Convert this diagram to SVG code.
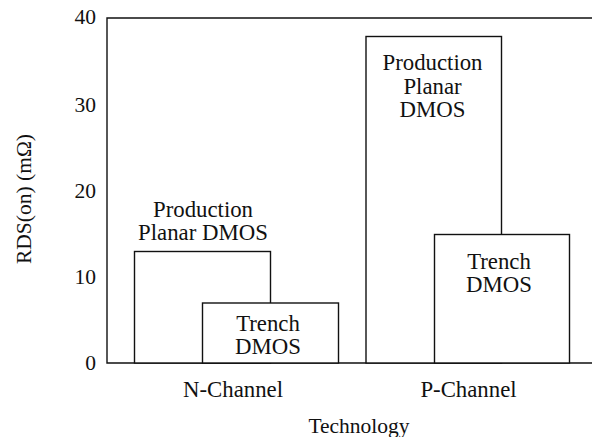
<svg xmlns="http://www.w3.org/2000/svg" width="592" height="437" viewBox="0 0 592 437" font-family="Liberation Serif, DejaVu Serif, serif">
<style>
text{font-size:22.8px;fill:#111}
.s{font-size:21.5px}
.m{text-anchor:middle}
.e{text-anchor:end}
.bar{fill:#fff;stroke:#111;stroke-width:1.4}
.ax{fill:none;stroke:#111;stroke-width:1.4}
</style>
<rect width="592" height="437" fill="#fff"/>
<g id="axes">
<path class="ax" d="M592,18 H107 V363 H592"/>
<text class="e s" x="96" y="24">40</text>
<text class="e s" x="96" y="111.5">30</text>
<text class="e s" x="96" y="197.5">20</text>
<text class="e s" x="96" y="283.5">10</text>
<text class="e s" x="96" y="369.5">0</text>
<text class="m s" transform="translate(31,199) rotate(-90)" x="0" y="0">RDS(on) (mΩ)</text>
<text class="m" x="233" y="397">N-Channel</text>
<text class="m" x="468.5" y="396.5">P-Channel</text>
<text class="m s" x="359" y="432.5">Technology</text>
</g>
<g id="n-production">
<rect class="bar" x="134.5" y="251.5" width="136" height="111.5"/>
<text class="m" x="203" y="217">Production</text>
<text class="m" x="203" y="240">Planar DMOS</text>
</g>
<g id="n-trench">
<rect class="bar" x="202.5" y="303" width="136" height="60"/>
<text class="m" x="268" y="330.5">Trench</text>
<text class="m" x="268" y="354">DMOS</text>
</g>
<g id="p-production">
<rect class="bar" x="366" y="36.5" width="135.5" height="326.5"/>
<text class="m" x="432.5" y="70">Production</text>
<text class="m" x="432.5" y="93.5">Planar</text>
<text class="m" x="432.5" y="117">DMOS</text>
</g>
<g id="p-trench">
<rect class="bar" x="434.5" y="234.5" width="135" height="128.5"/>
<text class="m" x="499" y="269">Trench</text>
<text class="m" x="499" y="292">DMOS</text>
</g>
</svg>
